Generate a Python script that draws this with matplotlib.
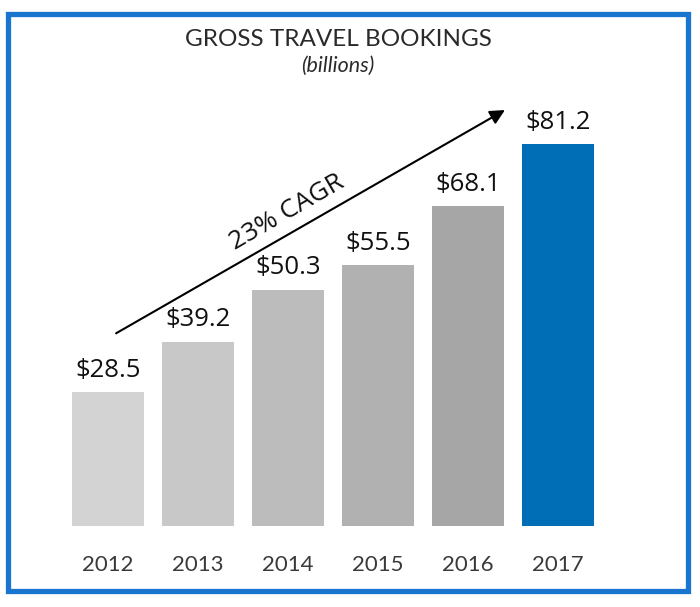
import matplotlib.pyplot as plt
from matplotlib.patches import Rectangle

# Chart data
years = ['2012', '2013', '2014', '2015', '2016', '2017']
bookings = [28.5, 39.2, 50.3, 55.5, 68.1, 81.2]
bar_colors = ['#d3d3d3', '#c8c8c8', '#bdbcbc', '#b2b1b1', '#a7a6a6', '#006db7']
labels = ['$%.1f' % v for v in bookings]
cagr_text = '23% CAGR'

W, H = 700, 607
fig = plt.figure(figsize=(W / 100, H / 100), dpi=100)
ax = fig.add_axes([0, 0, 1, 1])

# map data space onto the canvas: bar 0 centred at 108px, 90px apart, 4.7px per billion
ax.set_xlim(-108 / 90, (W - 108) / 90)
ax.set_ylim(-(H - 526) / 4.7, 526 / 4.7)
ax.axis('off')

x = range(len(years))
ax.bar(x, bookings, width=0.81, color=bar_colors)

for i, (v, lab) in enumerate(zip(bookings, labels)):
    ax.text(i, v + 2.0, lab, ha='center', va='bottom', fontsize=18.5,
            family='Open Sans', color='#111111')
    ax.text(i, -8.3, years[i], ha='center', va='center', fontsize=16,
            family='Lato', color='#3a3a3a')

# growth arrow
ax.annotate('', xy=(4.41, 88.5), xytext=(0.09, 41.0),
            arrowprops=dict(arrowstyle='-|>', color='black', lw=1.5,
                            mutation_scale=22, shrinkA=0, shrinkB=0))
ax.text(1.99, 66.8, cagr_text, rotation=30, ha='center', va='center',
        fontsize=19, family='Open Sans', color='#111111', rotation_mode='anchor')

# titles
fig.text(338 / W, 1 - 40 / H, 'GROSS TRAVEL BOOKINGS', ha='center', va='center',
         fontsize=17.5, family='Lato', color='#2a2a2a')
fig.text(338 / W, 1 - 66 / H, '(billions)', ha='center', va='center',
         fontsize=15.5, family='Lato', style='italic', color='#2a2a2a')

# blue frame
fig.patches.append(Rectangle((8 / W, 1 - 591 / H), 680 / W, 577 / H,
                             transform=fig.transFigure, fill=False,
                             edgecolor='#1a75cf', lw=3.8))

fig.savefig('out.png', dpi=100)
